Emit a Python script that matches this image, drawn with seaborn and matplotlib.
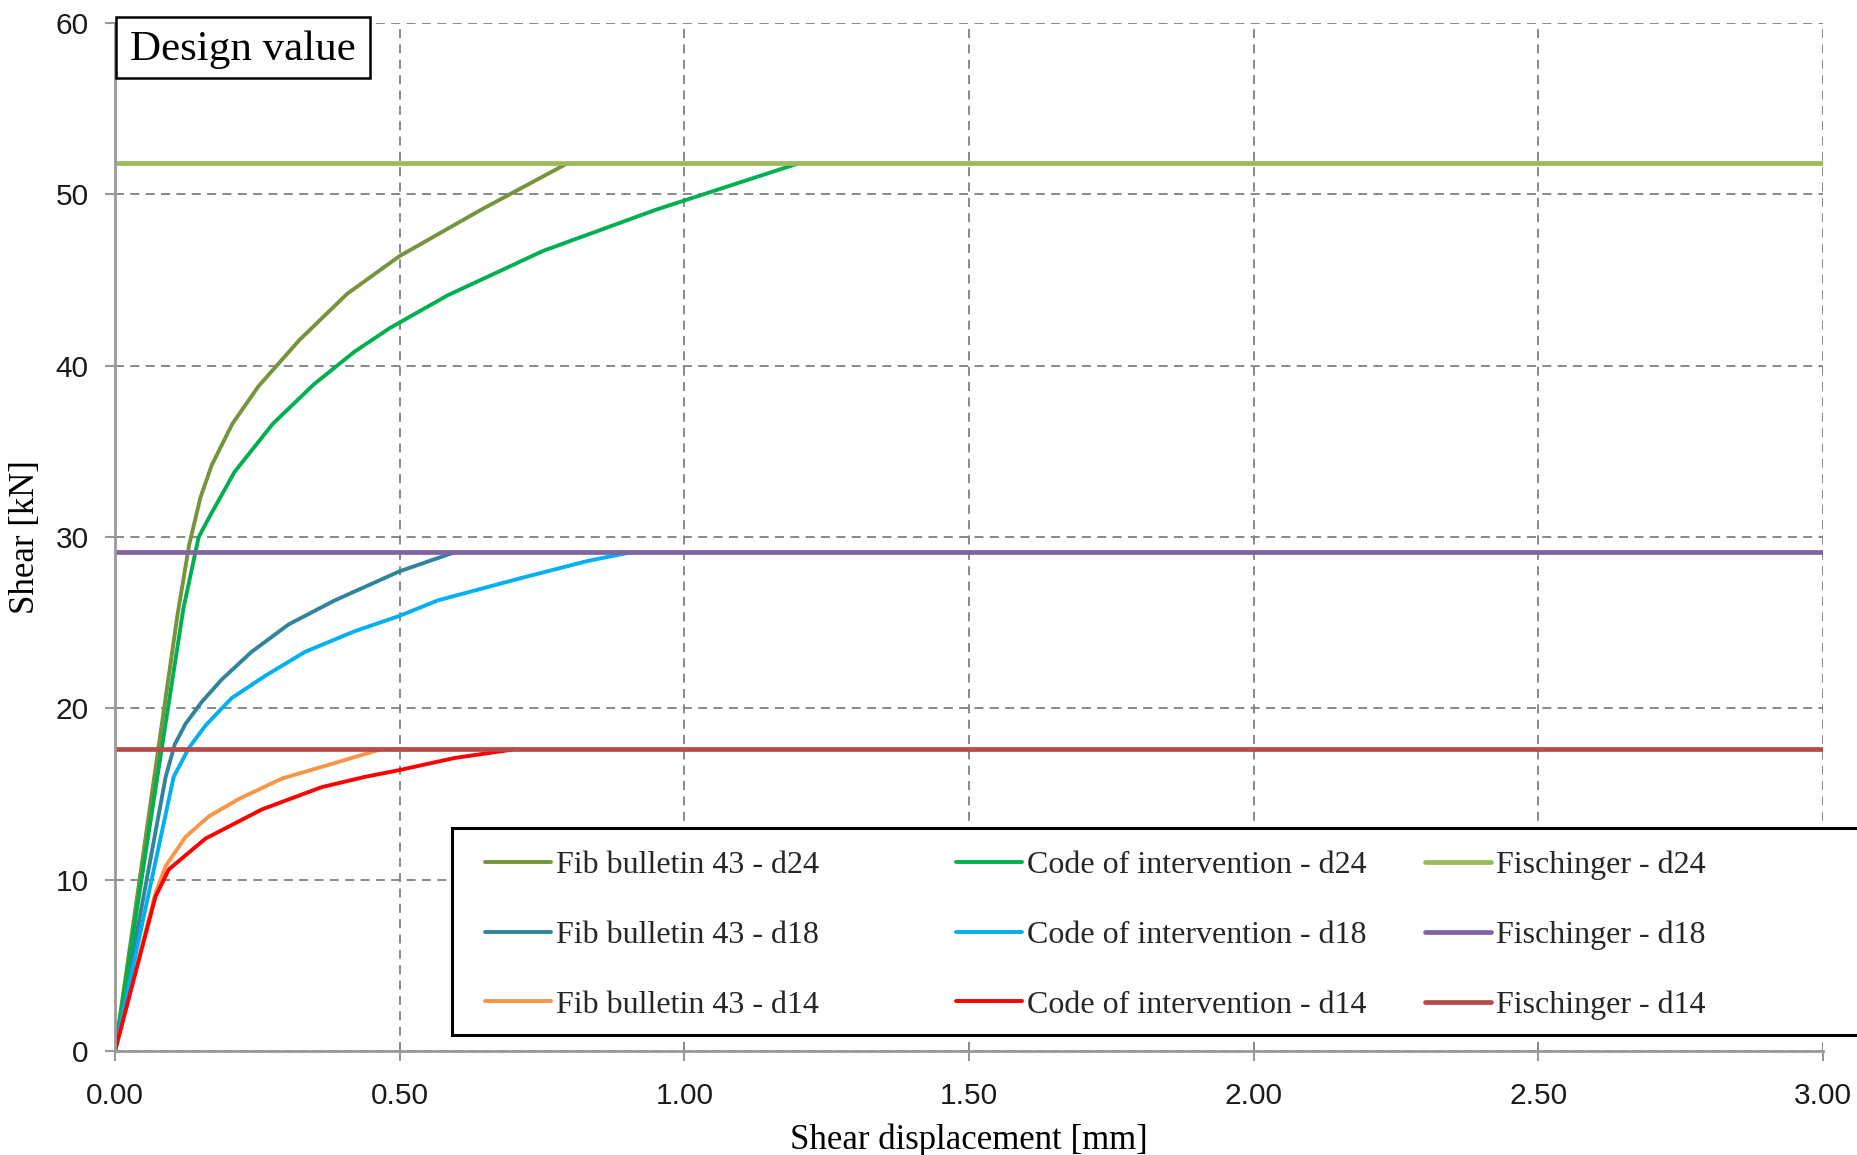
import matplotlib
matplotlib.use("Agg")
import matplotlib.pyplot as plt
import matplotlib.patches as patches
import seaborn as sns
import numpy as np

# ── data ─────────────────────────────────────────────────────────────
disp_fib_d24 = [0, 0.11, 0.13, 0.15, 0.17, 0.206, 0.252, 0.324, 0.408, 0.50, 0.643, 0.794]
shear_fib_d24 = [0, 25.5, 29.5, 32.3, 34.2, 36.6, 38.8, 41.5, 44.2, 46.4, 49.1, 51.8]

disp_code_d24 = [0, 0.12, 0.147, 0.168, 0.21, 0.277, 0.349, 0.42, 0.483, 0.584, 0.752, 0.95, 1.2]
shear_code_d24 = [0, 25.8, 30.0, 31.3, 33.8, 36.6, 38.9, 40.8, 42.2, 44.1, 46.7, 49.1, 51.8]

disp_fib_d18 = [0, 0.089, 0.105, 0.124, 0.153, 0.188, 0.24, 0.305, 0.386, 0.50, 0.596]
shear_fib_d18 = [0, 16.0, 17.9, 19.1, 20.4, 21.7, 23.3, 24.9, 26.3, 28.0, 29.1]

disp_code_d18 = [0, 0.103, 0.13, 0.159, 0.205, 0.264, 0.334, 0.421, 0.50, 0.567, 0.713, 0.83, 0.905]
shear_code_d18 = [0, 16.0, 17.7, 19.0, 20.6, 21.9, 23.3, 24.5, 25.4, 26.3, 27.6, 28.6, 29.1]

disp_fib_d14 = [0, 0.071, 0.089, 0.124, 0.165, 0.217, 0.293, 0.375, 0.466]
shear_fib_d14 = [0, 9.2, 10.8, 12.5, 13.7, 14.7, 15.9, 16.7, 17.6]

disp_code_d14 = [0, 0.071, 0.0945, 0.159, 0.258, 0.363, 0.439, 0.50, 0.596, 0.70]
shear_code_d14 = [0, 9.0, 10.6, 12.4, 14.1, 15.4, 16.0, 16.4, 17.1, 17.6]

disp_fisch = [0, 3.0]
shear_fisch_d24 = [51.8, 51.8]
shear_fisch_d18 = [29.1, 29.1]
shear_fisch_d14 = [17.6, 17.6]

x_ticks = [0, 0.5, 1.0, 1.5, 2.0, 2.5, 3.0]
y_ticks = [0, 10, 20, 30, 40, 50, 60]

series = [
    ("Fib bulletin 43 - d24", disp_fib_d24, shear_fib_d24, "#77933C", 2.8),
    ("Fib bulletin 43 - d18", disp_fib_d18, shear_fib_d18, "#31849B", 2.8),
    ("Fib bulletin 43 - d14", disp_fib_d14, shear_fib_d14, "#F79646", 2.8),
    ("Code of intervention - d24", disp_code_d24, shear_code_d24, "#00B050", 2.8),
    ("Code of intervention - d18", disp_code_d18, shear_code_d18, "#00B0F0", 2.8),
    ("Code of intervention - d14", disp_code_d14, shear_code_d14, "#FF0000", 2.8),
    ("Fischinger - d24", disp_fisch, shear_fisch_d24, "#9BBB59", 3.4),
    ("Fischinger - d18", disp_fisch, shear_fisch_d18, "#8064A2", 3.4),
    ("Fischinger - d14", disp_fisch, shear_fisch_d14, "#B84A4A", 3.4),
]

# ── style ────────────────────────────────────────────────────────────
sns.set_theme(style="white")
plt.rcParams['font.family'] = ['Liberation Sans', 'DejaVu Sans']

W, H = 1857, 1155
fig = plt.figure(figsize=(W / 100, H / 100), dpi=100)
ax = fig.add_axes([115 / W, 1 - 1051 / H, (1823 - 115) / W, (1051 - 23) / H])

handles = []
for label, xs, ys, col, lw in series:
    sns.lineplot(x=xs, y=ys, color=col, lw=lw, ax=ax, legend=False,
                 estimator=None, sort=False)
    handles.append(ax.lines[-1])

ax.set_xlim(0, 3)
ax.set_ylim(0, 60)
ax.set_xticks(x_ticks)
ax.set_xticklabels([f"{t:.2f}" for t in x_ticks])
ax.set_yticks(y_ticks)
ax.grid(True, ls=(0, (5, 3.5)), color="#808080", lw=1.3)
ax.set_axisbelow(True)

for s in ["top", "right"]:
    ax.spines[s].set_visible(False)
for s in ["left", "bottom"]:
    ax.spines[s].set_color("#999999")
    ax.spines[s].set_linewidth(2)

ax.tick_params(axis="both", direction="out", length=7, width=1.5, color="#999999",
               labelsize=21.5, labelcolor="#1a1a1a")
ax.tick_params(axis="y", pad=12, left=True)
ax.tick_params(axis="x", pad=15, bottom=True)

serif = ['Liberation Serif', 'DejaVu Serif']
ax.set_xlabel("Shear displacement [mm]", fontsize=25, family=serif, color="black")
ax.set_ylabel("Shear [kN]", fontsize=25, family=serif, color="black")
ax.xaxis.set_label_coords(0.5, -0.071)
ax.yaxis.set_label_coords(-0.043, 0.5)

# ── legend: framed box, three columns ────────────────────────────────
fig.add_artist(patches.Rectangle((452 / W, 1 - 1035 / H), (1880 - 452) / W, (1035 - 828) / H,
                                 transform=fig.transFigure, fc="white", ec="black",
                                 lw=2.2, zorder=3, clip_on=False))
col_x = [485, 956, 1425]
for i, cx in enumerate(col_x):
    hs = handles[i * 3:(i + 1) * 3]
    labs = [series[j][0] for j in range(i * 3, (i + 1) * 3)]
    leg = fig.legend(hs, labs, loc="center left", bbox_to_anchor=(cx / W, 1 - 935 / H),
                     frameon=False, borderaxespad=0, borderpad=0, handlelength=2.06,
                     handletextpad=0.15, labelspacing=1.27,
                     prop={'family': serif, 'size': 23})
    leg.set_zorder(5)

# ── "Design value" box ───────────────────────────────────────────────
fig.add_artist(patches.Rectangle((116 / W, 1 - 78 / H), (370 - 116) / W, (78 - 16.5) / H,
                                 transform=fig.transFigure, fc="white", ec="black",
                                 lw=1.8, zorder=3, clip_on=False))
fig.text(243 / W, 1 - 60 / H, "Design value", ha="center", va="baseline",
         fontsize=31, family=serif, color="black", zorder=4)

fig.savefig("out.png", dpi=100)
